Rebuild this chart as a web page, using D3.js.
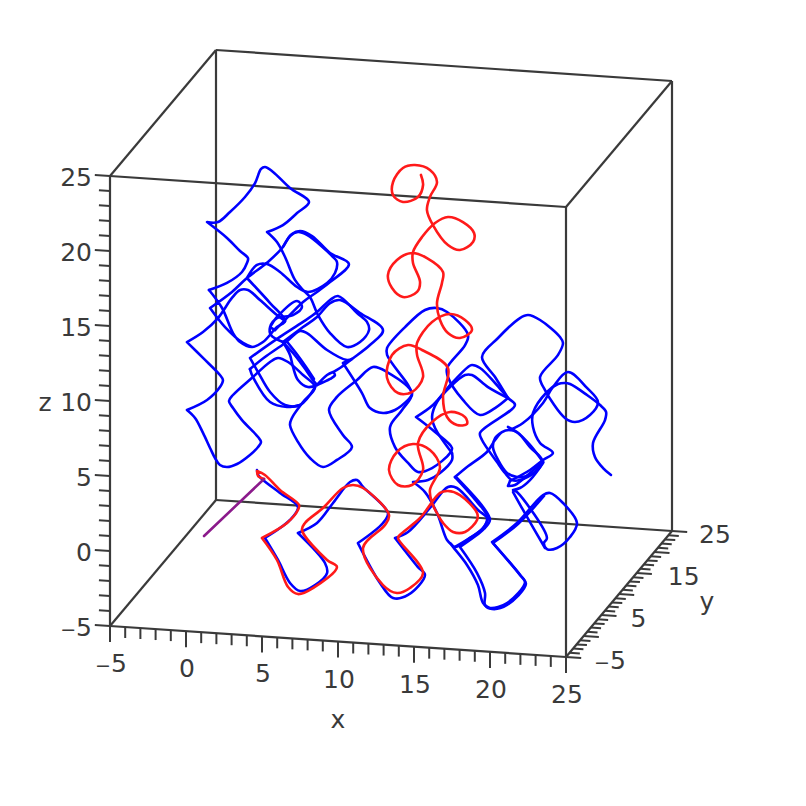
<!DOCTYPE html>
<html><head><meta charset="utf-8">
<script src="https://cdn.jsdelivr.net/npm/d3@7"></script>
<style>html,body{margin:0;padding:0;background:#fff}svg{display:block}</style></head>
<body><svg id="c" width="806" height="806"></svg>
<script>
// Axis ranges and tick labels
const xLabels=[-5,0,5,10,15,20,25];
const yLabels=[-5,5,15,25];
const zLabels=[-5,0,5,10,15,20,25];
const axisMin=-5, axisMax=25;
// Curves as [u,v] in view-plane axis units
const blueA=[[1.6,17.4],[2.8,17.87],[3.8,18.6],[4.13,19.2],[4.2,19.53],[3.67,20],[2.8,20.87],[1.47,21.93],[2.2,21.93],[3,22.6],[4,23.6],[4.67,24.53],[5.07,25.47],[5.33,25.6],[5.87,25.27],[7,24.2],[8.27,23.27],[7.47,22.53],[6.53,21.73],[5.47,21.27],[6.13,20.6],[6.67,19.6],[7.33,18.07],[7.87,17.4],[8.33,16.93],[8.87,15.73],[9.67,14.53],[10.8,13.6],[11.67,13.93],[12.27,14.73],[12.13,15.27],[11.47,15.87],[10.2,17],[9.67,16.73],[8.8,15.93],[7.87,15.27],[6.33,14.27],[4.33,12.87],[4.87,11.93],[5.67,10.6],[6.67,9.73],[7.67,9.73],[8.67,10.93]];
const blueB=[[1.6,17.4],[2.47,16.2],[3.2,14.53],[3.67,13.93],[4.47,13.6],[5.2,13.93],[6.13,14.93],[6.67,15.33],[5.67,16.53],[4.13,18.2],[4.8,19.07],[5.47,19.13],[6.33,18.6],[7.47,17.6],[8.2,17.27],[9.47,17.87],[10,18.53],[10.13,19.27],[9.87,19.6],[8.13,21.07],[7.53,21.27],[7,21],[6.53,20.27],[5.53,19.27],[4.13,18.2],[3.13,17.27],[1.67,16.2],[2.67,14.93],[3.87,13.87],[4.47,13.6]];
const blueC=[[6.53,20.27],[7.13,21.13],[7.67,21.33],[8.47,21],[9.67,19.87],[10.93,19.13],[9.67,17.93],[8.8,17.27],[7.87,16.6],[6.67,15.4],[6,14.73]];
const blueD=[[6,14.73],[5.67,14.93],[6.13,15.6],[7.47,16.67],[7.8,16.27],[7.2,15.73],[6.13,15.53],[5.67,14.93],[5.73,14.4],[6.53,13.93]];
const blueE=[[6.67,15.33],[6.13,15.73],[5,16.73],[4.2,17.4],[3.67,17.4],[3.13,16.87],[2.2,15.53],[1.2,14.6],[0.13,13.93],[1.2,12.87],[2.33,11.73],[2.53,11.4],[2.33,10.93],[1.47,10.07],[0.13,9.4],[0.67,8.87],[1.2,7.87],[1.67,6.87],[2,6.2],[2.33,5.73],[2.8,5.6],[3.47,5.8],[4.33,6.4],[4.87,6.93],[5.07,7.27],[4.87,7.6],[3.8,8.73],[3.2,9.53],[2.93,10],[3.2,10.4],[4.53,11.6],[5.67,12.6],[6.2,12.87],[6.87,12.6],[7.87,11.73],[8.67,10.93],[7.87,9.93],[7.13,8.87],[7,8.4],[7.53,7.27],[8.33,6.2],[9.2,5.6],[10.13,6.07],[11.13,6.93],[10.53,7.73],[9.6,9.4],[10.13,10.27],[11.47,11.4],[12.53,12.27],[13.47,11.93],[15.13,10.53],[14.47,9.4],[13.67,8.27],[14,6.93],[14.87,5.87],[15.53,5.27],[16.47,5.53],[17.67,6.53],[17.8,6.87],[16.67,7.93],[15.4,8.93],[16.53,9.73],[17.8,11.2],[18.87,12.27],[19.13,12.4],[19.67,12.2],[20.67,11.2],[21.53,10.2],[22,9.73],[19.67,7.87],[19.8,7.4],[20.8,5.93],[21.33,5.2],[21.8,4.73],[22.33,4.73],[23.33,5.27],[23.87,5.93]];
const blueF=[[6.53,13.93],[7.2,13.2],[7.87,12.33],[8.53,11.4],[8.8,11.07]];
const blueF2=[[6.87,13.87],[7.4,13.2],[8.07,12.27],[8.6,11.47]];
const blueG=[[4.33,12.13],[5.33,12.93],[6.67,13.87],[7.67,14.67],[8.13,14.53],[9.47,13.4],[10.8,12.73],[11.13,12.8],[10.53,12.53],[11.8,10.53],[12.33,9.53],[13.2,9.2],[14,9.4],[14.87,10.07],[15.13,10.4]];
const blueH=[[4.33,12.13],[4.53,11.6],[5.67,9.93],[6.8,9.6],[7.67,9.73]];
const blueI=[[6.53,13.93],[7.87,14.93],[8.8,15.6],[9.67,16.53],[10.33,16.73],[11.67,15.87],[13.2,14.73],[12.33,13.73],[11.13,12.8],[10.33,12.2],[9.87,11.93],[10,11.73],[9.67,11.47],[8.8,11.07],[9.47,11.73],[9.87,11.93]];
const blueJ=[[6.53,13.93],[7,13.07],[7.2,12.27],[7.53,11.4],[8.2,10.93],[8.8,11.07]];
const blueK=[[21.53,10.2],[20.67,9.53],[19.67,9.07],[18.53,10.07],[17.53,11.6],[17.47,12.2],[18.67,13.73],[18.87,14.4],[17.47,15.93],[16.8,16.2],[16,16.07],[14.67,14.93],[13.47,13.53],[13.47,13.07],[14.87,11.07],[15.13,10.53]];
const blueL=[[17.8,6.53],[16.67,8.2],[16.47,8.93],[16.8,9.93],[17.67,10.93],[18.67,11.73],[19.13,11.73],[20.2,10.93],[21.53,10.2]];
const blueM=[[17.8,6.53],[17.8,6.07],[17,5.2],[16.2,4.73],[15.2,4.6],[16,3.93],[16.8,2.53],[17.47,0.73],[17.8,0.4]];
const blueN=[[21.53,10.2],[20.67,11.6],[19.8,12.93],[20.87,14.2],[22.33,15.53],[22.87,15.73],[23.67,15.4],[25,14.27],[25.2,13.87],[24.87,13.07],[23.67,11.6],[24,10.73],[25.33,8.87],[26,8.6],[27,9.07],[27.53,9.93],[26.8,10.87],[25.53,11.93],[24.53,10.93],[23.87,9.87],[22.53,8.53],[21.67,8.07]];
const blueO=[[21.67,4.67],[23,5.4],[23.87,6.07],[24.53,6.53],[23.67,7.2],[23.2,8.27],[23.2,9.2],[24.13,10.6],[24.87,11.13],[25.33,11.2],[25.67,11.13],[26.8,10.4],[27.67,9.73],[28.07,9.27],[28,8.73],[27.2,7.2],[27.33,6.27],[27.87,5.53],[28.4,5.07]];
const blueP=[[23.87,5.93],[23,5.2],[22,4.4],[21.53,4.33],[21.67,4.67]];
const blueQ=[[18,4.93],[18.8,5.6],[20.13,6.6],[20.67,7.4],[21.13,7.93],[21.67,8.07],[22.2,7.87],[23,6.93],[23.8,6.07],[23.67,5.6],[23,5.07],[22.13,4.93],[21.47,5.2],[20.87,6.07],[20.53,6.93],[20.67,7.53],[21.13,7.93]];
const blueR=[[21.53,8.27],[22.13,7.93],[23,7.07],[23.87,5.93]];
const blueS=[[18,4.93],[19.47,3.27],[20.2,2.2],[19.87,1.53],[19,0.87],[18,0.27],[17.67,0.53],[17.87,0.27],[18.8,-0.93],[19.53,-2.27],[19.87,-3.47],[20.33,-3.8],[21.47,-3.47],[22.67,-2.07],[22.33,-1.6],[20.47,0.6],[22.13,1.87],[23.87,3.73],[24.33,3.87],[25.2,3.2],[26.13,1.87],[25.67,0.93],[24.8,0.2],[24.13,0.13],[23.93,0.53],[24.13,0.87],[22.13,3.93],[21.87,4.07],[22.33,4.2],[23,4.73],[23.87,5.87]];
const blueT=[[18.13,4.87],[19.87,2.93],[20.33,2.07],[19.93,1.47],[18.33,0.27],[19.47,-1.47],[20,-2.8],[20,-3.6],[20.47,-3.87],[21.47,-3.6],[22.73,-2.2],[22.4,-1.67],[20.53,0.53],[22.2,1.8],[23.93,3.67]];
const blueU=[[21.87,3.93],[22.8,2.27],[24,0.2]];
const blueV=[[4.8,5.4],[4.87,5.07],[5.2,4.73],[6.33,3.87],[7.53,2.93],[7,2.07],[5.33,0.87],[6.2,-0.6],[7,-2.13],[7.67,-2.67],[8.67,-2.27],[9.47,-1.47],[9.33,-0.8],[7.53,1.2],[8.8,1.87],[9.87,3.2],[11,4.6],[11.47,4.73],[11.87,4.27],[13.53,2.53],[13.2,1.87],[11.53,0.53],[13,-2.13],[13.87,-3.13],[14.87,-2.93],[16,-1.6],[15.53,-1.07],[14,0.87],[14.87,1.27],[16.33,2.87],[17.53,4.27],[18.13,4.2],[19.53,2.73],[20.13,2.2],[19.87,1.53],[19,0.87],[18,0.27]];
const redCurve=[[15.73,25.07],[15.87,24.4],[15.53,23.6],[14.53,23.27],[13.87,23.73],[13.87,24.6],[14.53,25.53],[15.33,25.73],[16.33,25.4],[16.8,24.6],[16.33,23.6],[16.13,22.73],[16.53,21.73],[17.53,20.4],[18.33,20.07],[19.2,20.6],[19.27,21.2],[18.53,21.93],[17.53,22.27],[16.67,21.87],[15.8,20.93],[15.2,19.93],[15.2,19.2],[15.67,17.93],[15.47,17.27],[14.53,16.93],[13.8,17.53],[13.53,18.4],[14.13,19.4],[15.13,19.87],[16.13,19.53],[17.2,18.6],[17.13,17.87],[16.8,16.53],[17,15.4],[17.53,14.53],[18.33,14.2],[19.13,14.73],[18.67,15.4],[17.67,15.8],[16.47,15.27],[15.47,13.87],[15.47,13.07],[15.87,11.6],[15.13,10.6],[14.2,10.53],[13.47,11.53],[13.8,13.07],[14.87,13.73],[15.8,13.4],[17.53,12.2],[17.2,10.27],[17.47,8.93],[18.13,8.4],[18.8,8.47],[18.67,8.93],[17.67,9.27],[16.47,8.6],[15.53,7.2],[15.87,5.4],[15.13,4.4],[14.2,4.4],[13.6,5.4],[14.13,6.6],[15.2,7.13],[16.33,6.73],[17,5.6],[16.33,4.07],[16.47,3.2],[16.8,2.53],[17.2,1.87],[17.87,1.27],[18.67,1.27],[19.47,2.07],[19.47,2.53],[18.33,3.73],[17.53,4],[17,3.87],[15.67,2.2],[14.33,1.07],[14.2,0.87],[15.87,-1.47],[15,-2.47],[14.13,-2.8],[13.2,-2.27],[11.87,0.2],[13.33,1.73],[13.6,2.4],[11.87,4.2],[11.2,4.4],[10.53,4.2],[9.2,2.87],[8,1.87],[7.8,1.4],[9.47,-0.6],[10.13,-1.07],[8.53,-2.47],[7.53,-2.87],[6.87,-2.4],[6.13,-0.6],[5.13,0.87],[6.8,1.87],[7.53,2.73],[7.6,3.07],[6.33,4.07],[5.33,5.07],[4.8,5.33],[4.87,5],[5.27,4.8]];
const purpleCurve=[[5.27,4.8],[1.27,1]];
const blueCurves=[blueA,blueB,blueC,blueD,blueE,blueF,blueF2,blueG,blueH,blueI,blueJ,blueK,blueL,blueM,blueN,blueO,blueP,blueQ,blueR,blueS,blueT,blueU,blueV];

const svg=d3.select("#c");
const scaleU=d3.scaleLinear().domain([-5,25.4]).range([110,566]);
const scaleV=d3.scaleLinear().domain([-5,25]).range([626,176]);
// orthographic view of a point of the 3D box onto the view plane
const ux=456/30/15, uy=106/30/15, vx=-31/30/15, vy=126/30/15;
const proj=(x,y,z)=>[scaleU(-5+(x+5)*ux+(y+5)*uy), scaleV(-5+(z+5)+(x+5)*vx+(y+5)*vy)];
const ink="#3a3a3a";
const seg=(a,b,w)=>svg.append("line").attr("x1",a[0]).attr("y1",a[1]).attr("x2",b[0]).attr("y2",b[1]).attr("stroke",ink).attr("stroke-width",w);
const lo=axisMin,hi=axisMax;
[[[lo,lo,lo],[hi,lo,lo]],[[lo,hi,lo],[hi,hi,lo]],[[lo,lo,hi],[hi,lo,hi]],[[lo,hi,hi],[hi,hi,hi]],
 [[lo,lo,lo],[lo,hi,lo]],[[hi,lo,lo],[hi,hi,lo]],[[lo,lo,hi],[lo,hi,hi]],[[hi,lo,hi],[hi,hi,hi]],
 [[lo,lo,lo],[lo,lo,hi]],[[hi,lo,lo],[hi,lo,hi]],[[lo,hi,lo],[lo,hi,hi]],[[hi,hi,lo],[hi,hi,hi]]]
 .forEach(e=>seg(proj(...e[0]),proj(...e[1]),2.2));
d3.range(lo,hi+1).forEach(t=>{
  const major=(t-lo)%5===0;
  seg(proj(t,lo,lo),proj(t,lo,lo-(major?1.07:0.73)),2);
  seg(proj(lo,lo,t),proj(lo-(major?1:0.73),lo,t),2);
  seg(proj(hi,t,lo),proj(hi+(major?1:0.68),t,lo),2);
});
const fmt=(g,n,size)=>{
  if(n<0){g.append("tspan").attr("font-size",size*0.76).text("\u2212");g.append("tspan").text(-n);}
  else g.text(n);
};
const label=(p,n,anchor)=>{
  const g=svg.append("text").attr("x",p[0]).attr("y",p[1]).attr("font-family","'DejaVu Sans'").attr("font-size",25).attr("fill",ink).attr("text-anchor",anchor);
  fmt(g,n,25);
};
const yNudge=[44,37,47,43];
xLabels.forEach(t=>{const p=proj(t,lo,lo);label([p[0]+1,p[1]+46],t,"middle");});
zLabels.forEach(t=>{const p=proj(lo,lo,t);label([p[0]-18,p[1]+10],t,"end");});
yLabels.forEach((t,i)=>{const p=proj(hi,t,lo);label([p[0]+yNudge[i],p[1]+12],t,"middle");});
label([338,728],"x","middle");label([707,610],"y","middle");label([45,411],"z","middle");

const path=d3.line().x(d=>scaleU(d[0])).y(d=>scaleV(d[1])).curve(d3.curveCatmullRom.alpha(0.5));
// Left-pointing tips are true cusps: the point is repeated so the spline keeps them sharp
const sharpen=pts=>pts.flatMap((p,i)=>{
  if(i===0||i===pts.length-1) return [p];
  const a=pts[i-1],b=pts[i+1];
  const t=Math.atan2(p[1]-a[1],p[0]-a[0])-Math.atan2(b[1]-p[1],b[0]-p[0]);
  const turn=Math.abs(Math.atan2(Math.sin(t),Math.cos(t)));
  const leftTip=a[0]>p[0]&&b[0]>p[0];
  return turn>(leftTip?1.35:2.2)?[p,p]:[p];
});
const draw=(pts,col,w)=>svg.append("path").attr("d",path(sharpen(pts))).attr("fill","none").attr("stroke",col).attr("stroke-width",w).attr("stroke-linejoin","round").attr("stroke-linecap","round");
blueCurves.forEach(c=>draw(c,"#0000ff",2.6));
draw(redCurve,"#ff1a1a",2.6);
draw(purpleCurve,"#8b1a8b",2.6);
</script></body></html>
